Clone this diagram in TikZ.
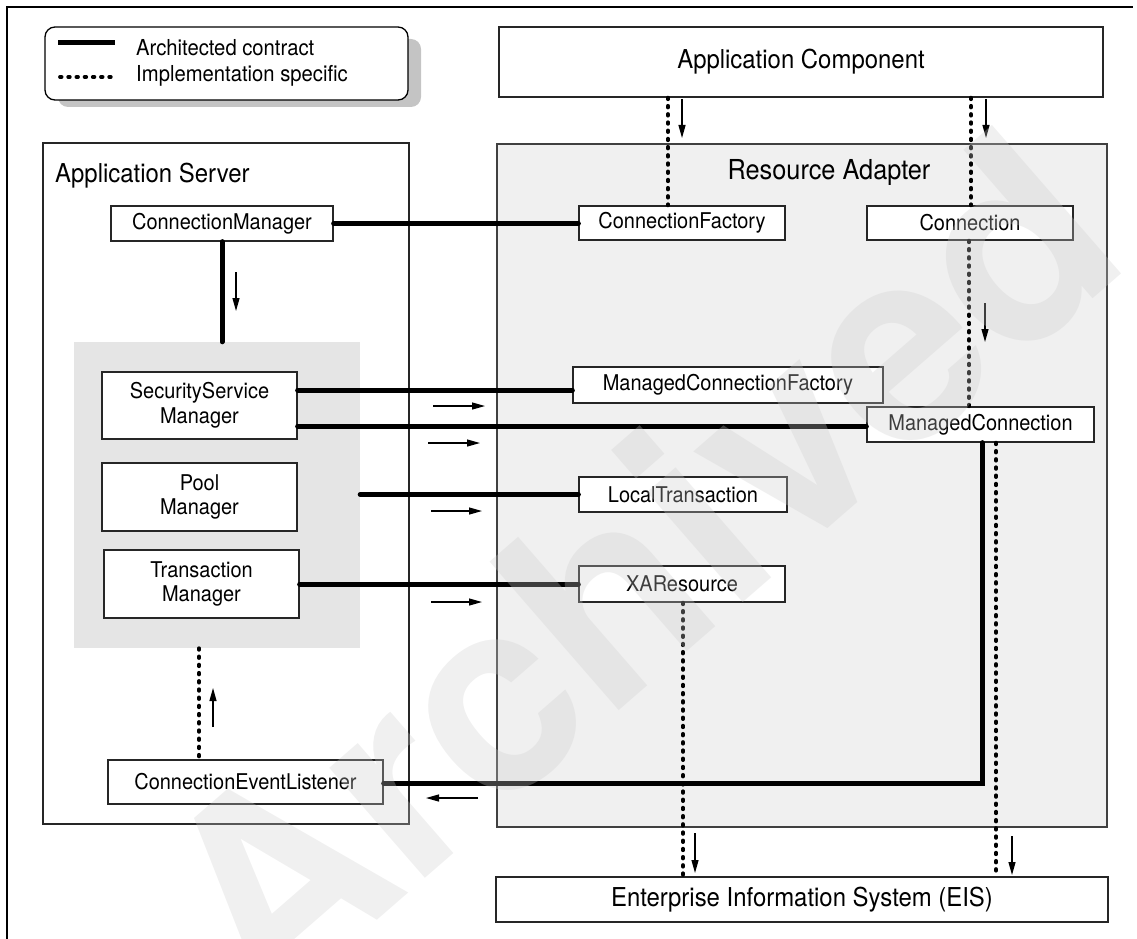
\documentclass[tikz,border=0pt]{standalone}
\usepackage{fontspec}
\setmainfont{TeX Gyre Heros}[FakeStretch=0.92]
\newfontfamily\markfont{TeX Gyre Heros}
\usetikzlibrary{arrows.meta}
\begin{document}
\begin{tikzpicture}[x=1pt,y=-1pt,
  box/.style={draw=black!85, line width=1.3pt, fill=white, inner sep=0pt,
    font=\fontsize{21.7}{24.5}\selectfont, align=center},
  bigbox/.style={draw=black!85, line width=1.3pt, fill=white, inner sep=0pt,
    font=\fontsize{26}{30}\selectfont},
  titletext/.style={inner sep=0pt, font=\fontsize{26}{30}\selectfont},
  legendtext/.style={anchor=base west, inner sep=0pt, font=\fontsize{22}{25}\selectfont},
  contract/.style={line width=5pt, line cap=round},
  impl/.style={line width=3.8pt, line cap=round, dash pattern=on 1.6pt off 6.6pt},
  flow/.style={line width=1.2pt, -{Triangle[length=13pt,width=7pt]}},
]
\useasboundingbox (0,0) rectangle (1137,939);

% outer frame (open to the right and bottom)
\draw[line width=2.5pt] (7,939) -- (7,7) -- (1133,7);

% legend with drop shadow
\fill[black!23, rounded corners=10pt] (58,39) rectangle (421,107);
\node[draw=black, line width=1.3pt, fill=white, rounded corners=10pt,
      minimum width=363pt, minimum height=73pt, inner sep=0pt] (legend) at (226.5,63.5) {};
\draw[line width=5pt] (58,43) -- (115,43);
\draw[impl] (60,77) -- (114,77);
\node[legendtext] (lgA) at (136,56) {Architected contract};
\node[legendtext] (lgB) at (136,82) {Implementation specific};

% containers
\node[draw=black!75, line width=1.2pt, fill=black!6, inner sep=0pt,
      minimum width=610pt, minimum height=683pt] (ra) at (802,485.5) {};
\node[titletext, anchor=base, font=\fontsize{27.5}{31}\selectfont] (ratitle) at (829,179) {Resource Adapter};
\node[draw=black!85, line width=1.3pt, inner sep=0pt,
      minimum width=366pt, minimum height=681pt] (as) at (226,483.5) {};
\node[titletext, anchor=base west] (astitle) at (55,182) {Application Server};
\node[fill=black!10, inner sep=0pt, minimum width=286pt, minimum height=306pt] (panel) at (217,495) {};

% top and bottom tiers
\node[bigbox, minimum width=604pt, minimum height=70pt] (appcomp) at (801,62) {Application Component};
\node[bigbox, minimum width=612pt, minimum height=45pt] (eis) at (802,899.5) {Enterprise Information System (EIS)};

% application server components
\node[box, minimum width=222pt, minimum height=35pt] (cm) at (222,223.5) {ConnectionManager};
\node[box, minimum width=195pt, minimum height=67pt] (ss) at (199.5,405.5) {SecurityService\\Manager};
\node[box, minimum width=195pt, minimum height=68pt] (pool) at (199.5,497) {Pool\\Manager};
\node[box, minimum width=195pt, minimum height=68pt] (tm) at (201.5,584) {Transaction\\Manager};
\node[box, minimum width=275pt, minimum height=44pt] (cel) at (245.5,782) {ConnectionEventListener};

% resource adapter components
\node[box, minimum width=206pt, minimum height=34pt] (cf) at (682,223) {ConnectionFactory};
\node[box, minimum width=206pt, minimum height=34pt] (conn) at (970,223) {Connection};
\node[box, minimum width=310pt, minimum height=36pt] (mcf) at (728,385) {ManagedConnectionFactory};
\node[box, minimum width=227pt, minimum height=35pt] (mc) at (980.5,424.5) {ManagedConnection};
\node[box, minimum width=208pt, minimum height=35pt] (lt) at (683,494.5) {LocalTransaction};
\node[box, minimum width=206pt, minimum height=36pt] (xa) at (682,584) {XAResource};

% architected contracts
\draw[contract] (cm.east) -- (cf.west |- cm.east);
\draw[contract] (cm.south) -- (cm.south |- panel.north);
\draw[contract] (ss.east |- 0,390) -- (mcf.west |- 0,390);
\draw[contract] (ss.east |- 0,426) -- (mc.west |- 0,426);
\draw[contract] (panel.east |- lt.west) -- (lt.west);
\draw[contract] (tm.east) -- (xa.west);
\draw[contract] (cel.east |- 0,783) -| (mc.south -| 982,0);

% implementation-specific links
\draw[impl] (appcomp.south -| 668,0) -- (cf.north -| 668,0);
\draw[impl] (appcomp.south -| 971,0) -- (conn.north -| 971,0);
\draw[impl] (conn.south -| 969,0) -- (mc.north -| 969,0);
\draw[impl] (mc.south -| 996,0) -- (eis.north -| 996,0);
\draw[impl] (xa.south -| 683,0) -- (eis.north -| 683,0);
\draw[impl] (panel.south -| 199,0) -- (cel.north -| 199,0);

% direction of calls
\draw[flow] (682,99) -- (682,138);
\draw[flow] (986,99) -- (986,138);
\draw[flow] (236,272) -- (236,311);
\draw[flow] (985,303) -- (985,342);
\draw[flow] (433,406) -- (485,406);
\draw[flow] (428,443) -- (480,443);
\draw[flow] (431,511) -- (482,511);
\draw[flow] (431,602) -- (482,602);
\draw[flow] (478,798) -- (426,798);
\draw[flow] (213,727) -- (213,688);
\draw[flow] (695,833) -- (695,873);
\draw[flow] (1012,836) -- (1012,875);

% watermark
\node[rotate=41, inner sep=0pt, text=black!20, text opacity=0.3,
      font=\fontsize{270}{270}\markfont\bfseries] (wm) at (635,565) {Archived};
\end{tikzpicture}
\end{document}
